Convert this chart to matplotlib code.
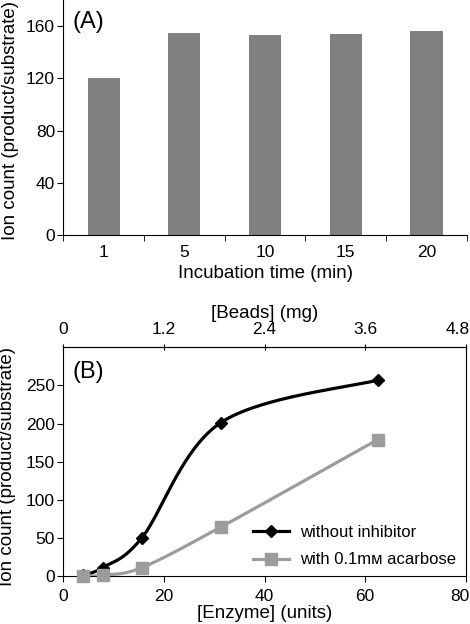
import numpy as np
import matplotlib
matplotlib.use("Agg")
import matplotlib.pyplot as plt
import matplotlib.transforms as mtransforms

plt.rcParams['font.family'] = ['Liberation Sans', 'DejaVu Sans']

# panel A data
times = ['1', '5', '10', '15', '20']
ion_a = [120, 155, 153, 154, 156]

# panel B data
enzyme_units = [3.9, 7.8, 15.6, 31.25, 62.5]
no_inhib = [1, 11, 50, 201, 257]
acarbose = [0, 1, 11, 64, 179]
units_per_mg = 80 / 4.8


def smooth_line(ax, x, y, n=60):
    # Catmull-Rom curve through the points, worked out in screen space
    p = ax.transData.transform(np.column_stack([x, y]))
    tang = np.zeros_like(p)
    tang[1:-1] = (p[2:] - p[:-2]) / 2
    tang[0] = (p[1] - p[0]) / 2
    tang[-1] = (p[-1] - p[-2]) / 2
    t = np.linspace(0, 1, n)[:, None]
    h00 = 2 * t ** 3 - 3 * t ** 2 + 1
    h10 = t ** 3 - 2 * t ** 2 + t
    h01 = -2 * t ** 3 + 3 * t ** 2
    h11 = t ** 3 - t ** 2
    segs = [h00 * p[i] + h10 * tang[i] + h01 * p[i + 1] + h11 * tang[i + 1]
            for i in range(len(p) - 1)]
    d = ax.transData.inverted().transform(np.vstack(segs))
    return d[:, 0], d[:, 1]


fig = plt.figure(figsize=(4.7, 6.24), dpi=100)
ylab_kw = dict(fontsize=13.5, va='center', ha='center', rotation_mode='default')

# ---- (A) bar chart
ax1 = fig.add_axes([0.1348, 0.6229, 0.8582, 0.3771])
pos = np.arange(len(times))
ax1.bar(pos, ion_a, width=0.4, color='#808080')
ax1.set_xlim(-0.5, 4.5)
ax1.set_ylim(0, 180)
ax1.set_yticks([0, 40, 80, 120, 160])
ax1.set_xticks(pos)
ax1.set_xticklabels(times)
ax1.set_xticks(np.arange(-0.5, 5.0, 1.0), minor=True)
ax1.tick_params(axis='x', which='major', length=0, labelsize=12.5, pad=7)
ax1.tick_params(axis='x', which='minor', length=4, direction='out')
ax1.tick_params(axis='y', length=4, direction='out', labelsize=12.5, pad=2)
for s in ['top', 'right']:
    ax1.spines[s].set_visible(False)
ax1.set_xlabel('Incubation time (min)', fontsize=13.5, labelpad=3.5)
ax1.set_ylabel('Ion count (product/substrate)', **ylab_kw)
ax1.yaxis.set_label_coords(-0.132, 0.488)
ax1.text(0.022, 0.905, '(A)', transform=ax1.transAxes, fontsize=17, va='center')

# ---- (B) enzyme titration
ax2 = fig.add_axes([0.1348, 0.0769, 0.8561, 0.3665])
ax2.set_xlim(0, 80)
ax2.set_ylim(0, 300)
black_c = 'black'
gray_c = '#9c9c9c'
xs, ys = smooth_line(ax2, enzyme_units, no_inhib)
ax2.plot(xs, ys, color=black_c, lw=2.3, zorder=2)
ax2.plot(enzyme_units, no_inhib, ls='none', marker='D', ms=6.5, color=black_c, zorder=3,
         clip_on=False)
xs2, ys2 = smooth_line(ax2, enzyme_units, acarbose)
ax2.plot(xs2, ys2, color=gray_c, lw=2.3, zorder=4)
ax2.plot(enzyme_units, acarbose, ls='none', marker='s', ms=8, color=gray_c, zorder=5,
         clip_on=False)
ax2.plot([], [], color=black_c, lw=2.3, marker='D', ms=6, label='without inhibitor')
ax2.plot([], [], color=gray_c, lw=2.3, marker='s', ms=8, label='with 0.1m\u1d0d acarbose')
ax2.set_xticks([0, 20, 40, 60, 80])
ax2.set_yticks([0, 50, 100, 150, 200, 250])
ax2.tick_params(axis='both', length=4, direction='out', labelsize=12.5, pad=2)
ax2.tick_params(axis='x', pad=5)
ax2.set_xlabel('[Enzyme] (units)', fontsize=13.5, labelpad=1)
ax2.set_ylabel('Ion count (product/substrate)', **ylab_kw)
ax2.yaxis.set_label_coords(-0.139, 0.477)
ax2.text(0.022, 0.893, '(B)', transform=ax2.transAxes, fontsize=17, va='center')
ax2.legend(loc='lower right', frameon=False, fontsize=12, handlelength=2.15,
           handletextpad=0.64, borderaxespad=0.2, labelspacing=0.73,
           bbox_to_anchor=(1.0, -0.006))

top = ax2.secondary_xaxis('top', functions=(lambda u: u / units_per_mg,
                                             lambda mg: mg * units_per_mg))
top.set_xticks([0, 1.2, 2.4, 3.6, 4.8])
top.set_xticklabels(['0', '1.2', '2.4', '3.6', '4.8'])
top.tick_params(length=4, direction='inout', labelsize=12.5, pad=5.5)
top.set_xlabel('[Beads] (mg)', fontsize=13.5, labelpad=3)

# the last labels at the right edge sit flush with the figure edge
shift = mtransforms.ScaledTranslation(4 / 100, 0, fig.dpi_scale_trans)
for lab in [ax2.get_xticklabels()[-1], top.get_xticklabels()[-1]]:
    lab.set_horizontalalignment('right')
    lab.set_transform(lab.get_transform() + shift)

fig.savefig('out.png', dpi=100)
